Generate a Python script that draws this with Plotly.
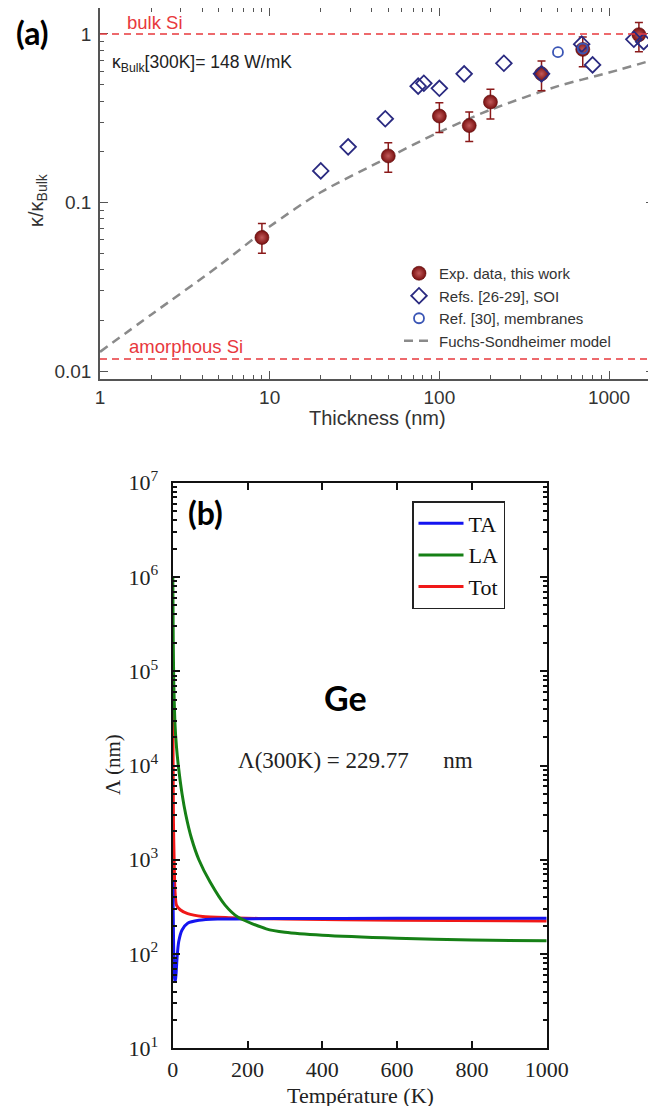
import plotly.graph_objects as go

W, H = 656, 1106
OFF = 8  # the page body adds an 8px margin; positions below are in screen pixels

# ---------------- Panel (a) data ----------------
exp_thickness = [9, 50, 100, 150, 200, 400, 700, 1500]
exp_kappa = [0.062, 0.189, 0.326, 0.286, 0.395, 0.58, 0.81, 0.99]
exp_upper = [0.075, 0.226, 0.391, 0.344, 0.47, 0.69, 0.96, 1.17]
exp_lower = [0.050, 0.151, 0.26, 0.23, 0.313, 0.46, 0.64, 0.785]

soi_thickness = [20, 29, 48, 75, 81, 100, 140, 240, 400, 690, 800, 1400, 1600]
soi_kappa = [0.154, 0.214, 0.314, 0.49, 0.51, 0.476, 0.58, 0.67, 0.58, 0.87, 0.655, 0.93, 0.90]

membrane_thickness = [500, 700]
membrane_kappa = [0.78, 0.82]

fs_thickness = [1, 2, 5, 10, 20, 50, 100, 200, 500, 1000, 1900]
fs_kappa = [0.013, 0.0216, 0.042, 0.072, 0.115, 0.185, 0.262, 0.355, 0.49, 0.59, 0.71]

bulk_level = 1.0
amorphous_level = 0.0118

x_ticks_a = [1, 10, 100, 1000]
x_ticktext_a = ["1", "10", "100", "1000"]
y_ticks_a = [0.01, 0.1, 1]
y_ticktext_a = ["0.01", "0.1", "1"]

# ---------------- Panel (b) data ----------------
ta_T = [0.3, 1.5, 3, 5, 7, 9, 12, 16, 25, 40, 70, 120, 300, 600, 1000]
ta_L = [600, 250, 90, 55, 51, 62, 95, 135, 180, 212, 228, 235, 238, 239, 239]

la_T = [0.3, 1.5, 3, 6, 10, 15, 25, 35, 50, 70, 100, 140, 175, 250, 300, 400, 600, 800, 1000]
la_L = [1.0e6, 2.0e5, 7.0e4, 2.8e4, 1.6e4, 1.0e4, 5.0e3, 3.0e3, 1.7e3, 1.0e3, 580, 330, 245, 185, 170, 158, 147, 141, 138]

tot_T = [0.3, 1, 2, 4, 6, 10, 20, 40, 80, 150, 300, 600, 1000]
tot_L = [5.0e4, 1.2e4, 2.5e3, 900, 480, 330, 295, 268, 250, 243, 235, 228, 224]

x_ticks_b = [0, 200, 400, 600, 800, 1000]
y_ticks_b = [10, 100, 1000, 1e4, 1e5, 1e6, 1e7]
y_ticktext_b = ["10<sup>%d</sup>" % k for k in range(1, 8)]

SANS = "Liberation Sans, Arial, sans-serif"
SERIF = "Liberation Serif, Times New Roman, serif"
BOLD = "Lato, Open Sans, sans-serif"


def fx(p):
    return min(1.0, max(0.0, (p - OFF) / W))


def fy(p):
    return min(1.0, max(0.0, 1 - (p - OFF) / H))


def minor_log(lo, hi):
    vals = []
    for e in range(lo, hi):
        for m in range(2, 10):
            vals.append(m * 10 ** e)
    return vals


fig = go.Figure()

# Panel (a) traces
fig.add_trace(go.Scatter(
    x=fs_thickness, y=fs_kappa, mode="lines", name="Fuchs-Sondheimer model",
    line=dict(color="#8a8a8a", width=2.5, dash="9px,6px", shape="spline", smoothing=0.8),
    xaxis="x", yaxis="y", legend="legend", legendrank=4))

fig.add_trace(go.Scatter(
    x=exp_thickness, y=exp_kappa, mode="markers", name="Exp. data, this work",
    marker=dict(symbol="circle", size=14, color="#7a1010",
                gradient=dict(type="radial", color="#c25a5a"),
                line=dict(width=0.6, color="#5a0808")),
    error_y=dict(type="data", symmetric=False,
                 array=[u - k for u, k in zip(exp_upper, exp_kappa)],
                 arrayminus=[k - l for k, l in zip(exp_kappa, exp_lower)],
                 color="#8b1a1a", thickness=1.5, width=4),
    xaxis="x", yaxis="y", legend="legend", legendrank=1))

fig.add_trace(go.Scatter(
    x=soi_thickness, y=soi_kappa, mode="markers", name="Refs. [26-29], SOI",
    marker=dict(symbol="diamond-open", size=12, color="#2a2a80", line=dict(width=1.8)),
    xaxis="x", yaxis="y", legend="legend", legendrank=2))

fig.add_trace(go.Scatter(
    x=membrane_thickness, y=membrane_kappa, mode="markers", name="Ref. [30], membranes",
    marker=dict(symbol="circle-open", size=10, color="#3a55b5", line=dict(width=1.8)),
    xaxis="x", yaxis="y", legend="legend", legendrank=3))

# Panel (b) traces
fig.add_trace(go.Scatter(
    x=tot_T, y=tot_L, mode="lines", name="Tot",
    line=dict(color="#f01818", width=3, shape="spline", smoothing=0.6),
    xaxis="x2", yaxis="y2", legend="legend2", legendrank=3))
fig.add_trace(go.Scatter(
    x=ta_T, y=ta_L, mode="lines", name="TA",
    line=dict(color="#1414f0", width=3, shape="spline", smoothing=0.6),
    xaxis="x2", yaxis="y2", legend="legend2", legendrank=1))
fig.add_trace(go.Scatter(
    x=la_T, y=la_L, mode="lines", name="LA",
    line=dict(color="#168016", width=3, shape="spline", smoothing=0.6),
    xaxis="x2", yaxis="y2", legend="legend2", legendrank=2))

dom_a_x = [fx(100), fx(654)]
dom_a_y = [fy(379), fy(8)]
dom_b_x = [fx(172.7), fx(546.7)]
dom_b_y = [fy(1048.3), fy(482.7)]

axis_a = dict(showline=True, linecolor="#555", linewidth=1.5, mirror="allticks",
              ticks="inside", ticklen=8, tickwidth=1.3, tickcolor="#555",
              showgrid=False, zeroline=False,
              tickfont=dict(family=SANS, size=19, color="#333"))
axis_b = dict(showline=True, linecolor="#111", linewidth=2, mirror="allticks",
              ticks="inside", ticklen=7, tickwidth=1.5, tickcolor="#111",
              showgrid=False, zeroline=False,
              tickfont=dict(family=SERIF, size=22, color="#222"))

fig.update_layout(
    width=W, height=H, autosize=False,
    margin=dict(l=0, r=0, t=0, b=0, autoexpand=False),
    paper_bgcolor="white", plot_bgcolor="white",
    xaxis=dict(axis_a, type="log", range=[0, 3.265], domain=dom_a_x, anchor="y",
               tickvals=x_ticks_a, ticktext=x_ticktext_a,
               minor=dict(ticks="inside", ticklen=4, tickcolor="#555", tickvals=minor_log(0, 4), showgrid=False)),
    yaxis=dict(axis_a, type="log", range=[-2.047, 0.154], domain=dom_a_y, anchor="x",
               tickvals=y_ticks_a, ticktext=y_ticktext_a, ticklabelstandoff=3,
               minor=dict(ticks="inside", ticklen=4, tickcolor="#555", tickvals=minor_log(-3, 1), showgrid=False)),
    xaxis2=dict(axis_b, range=[0, 1000], domain=dom_b_x, anchor="y2",
                tickvals=x_ticks_b, ticklabelstandoff=0),
    yaxis2=dict(axis_b, type="log", range=[1, 7], domain=dom_b_y, anchor="x2",
                tickvals=y_ticks_b, ticktext=y_ticktext_b, ticklabelstandoff=8,
                minor=dict(ticks="inside", ticklen=4, tickcolor="#111", tickvals=minor_log(1, 7), showgrid=False)),
    legend=dict(x=fx(399), y=fy(257), xanchor="left", yanchor="top",
                bgcolor="rgba(0,0,0,0)", font=dict(family=SANS, size=15, color="#333"),
                tracegroupgap=0),
    legend2=dict(x=fx(412), y=fy(501), xanchor="left", yanchor="top",
                 bgcolor="white", bordercolor="#222", borderwidth=1.5, itemwidth=45,
                 font=dict(family=SERIF, size=22, color="#111")),
    shapes=[
        dict(type="line", xref="x domain", yref="y", x0=0, x1=1, y0=bulk_level, y1=bulk_level,
             line=dict(color="#e8383d", width=1.4, dash="7px,5px")),
        dict(type="line", xref="x domain", yref="y", x0=0, x1=1, y0=amorphous_level, y1=amorphous_level,
             line=dict(color="#e8383d", width=1.4, dash="7px,5px")),
    ],
)


def ann(text, x, y, size, family, color="#222", xanchor="center", textangle=0):
    fig.add_annotation(text=text, x=fx(x), y=fy(y), xref="paper", yref="paper",
                       showarrow=False, xanchor=xanchor, yanchor="middle", textangle=textangle,
                       font=dict(family=family, size=size, color=color))


ann("<b>(a)</b>", 32, 33, 32, BOLD, "#000")
ann("bulk Si", 155, 23, 18.5, SANS, "#e8383d")
ann("κ<sub>Bulk</sub>[300K]= 148 W/mK", 110, 63, 17.5, SANS, "#222", xanchor="left")
ann("amorphous Si", 186, 346, 18.5, SANS, "#e8383d")
ann("κ/κ<sub>Bulk</sub>", 38, 200, 20, SANS, "#333", textangle=-90)
ann("Thickness (nm)", 377, 418, 20, SANS, "#333")

ann("<b>(b)</b>", 205, 512, 32, BOLD, "#000")
ann("<b>Ge</b>", 345, 697, 34, BOLD, "#000")
ann("Λ(300K) = 229.77\u00a0\u00a0\u00a0\u00a0\u00a0\u00a0nm", 236, 760, 23, SERIF, "#222", xanchor="left")
ann("Température (K)", 360, 1095, 22, SERIF, "#222")
ann("Λ (nm)", 113, 765, 21, SERIF, "#222", textangle=-90)

fig.write_html("out.html")
